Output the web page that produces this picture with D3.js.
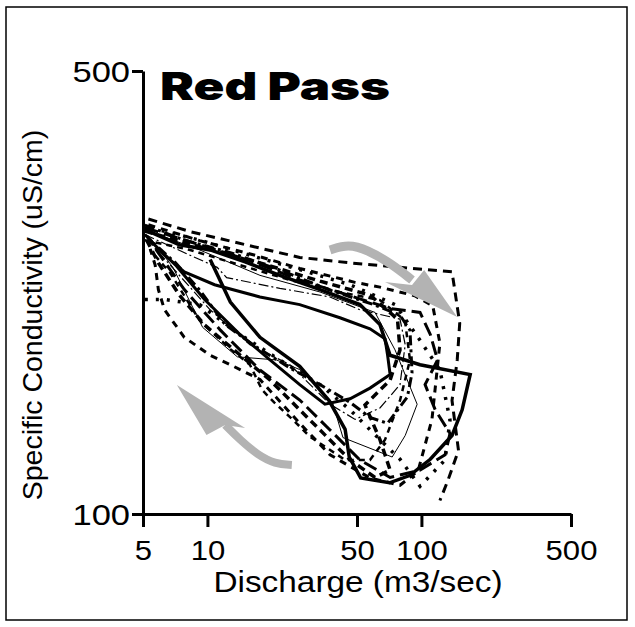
<!DOCTYPE html>
<html>
<head>
<meta charset="utf-8">
<script src="https://cdnjs.cloudflare.com/ajax/libs/d3/7.8.5/d3.min.js"></script>
<style>
  body { margin: 0; background: #fff; }
  svg { display: block; }
</style>
</head>
<body>
<svg id="chart" width="635" height="627"></svg>
<script>
// discharge (m3/sec), specific conductivity (uS/cm) -- one loop per event
var loop1 = [[5.1,281],[7.4,266],[10.3,261],[15,250],[21.8,238],[33.6,226],[51.6,214],[64,199],[71.4,178],[98.5,172],[169,166],[155,146],[139,133],[110,122],[88,115],[71,112],[52,114],[46,123],[44,136],[37,151],[27,171],[17.6,190],[12.8,216],[10.3,252]];
var loop2 = [[5.1,276],[6.3,256],[7.8,241],[10.8,230],[17.6,220],[27,214],[41.6,204],[57.5,196],[67.6,189],[69.5,178],[71.4,166],[57.5,158],[46.4,152],[35.4,149],[27,160],[19.6,175],[14.2,192],[9.7,218],[7.1,247],[5.4,270]];
var loop3 = [[5.1,281],[9.2,261],[17.6,238],[33.6,224],[60.7,208],[75.3,181.5],[95.5,149],[84,133],[73,123],[43,132],[38.4,150],[27,169],[21,175],[13.8,177],[9.5,197],[6.9,245],[5.4,273]];
var loop4 = [[5.1,276],[8.3,256],[11.1,245],[12.3,236],[21.8,227],[37.4,220],[51.6,210],[79.4,203],[84,185],[79.4,160],[64,147],[49,141],[37.4,149],[24.3,172],[15.8,185],[10.3,210],[6.7,247],[5.3,270]];
var loop5 = [[5.3,292],[8.3,279],[15.8,265],[27,254],[46.4,249],[79.4,245],[139,241],[151,200],[147,175],[139,151],[149,126],[133,113],[122,105]];
var loop6 = [[5.3,286],[9.2,270],[16.7,256],[27,244],[48.9,232],[64,228],[93,221],[113,213],[122,186],[112,141],[96.5,117],[79.4,111],[57.5,114],[37.4,124],[27,139],[17.6,163],[12.8,172],[10.3,178],[7.8,190],[6.3,210],[5.9,226],[5.7,247],[5.4,262]];
var loop7 = [[5.1,218],[6.3,218],[9.2,214],[14.2,192],[21.8,175],[33.6,160],[46.4,146],[64,131],[79.4,122],[98.5,110.6],[129,121.7],[136,140.7],[122,168.7],[98.5,188],[75.3,214],[46.4,230],[27,243],[15.8,256],[9.2,270.5],[6.0,280.5]];
var loop8 = [[5.1,283],[9.2,266],[15.8,251],[27,234],[46.4,221],[71.4,211],[98.5,208],[110,192],[119,175],[104,160],[116,146],[136,134],[129,124],[98.5,117.3],[71.4,114.2],[51.6,121.7],[37.4,135.7],[27,151.3],[17.6,168.7],[11.5,195],[7.8,226],[6.0,256],[5.2,275]];
var loop9 = [[5.1,285.6],[7.8,270.5],[12.8,258.5],[21.8,242.6],[37.4,225.6],[60.7,213.6],[79.4,206],[88.4,195],[90.4,167],[86,153],[69.5,139],[57.5,142],[46.4,150],[33.6,160],[24.3,170],[16.7,184],[12.1,199],[9.2,225.6],[7.1,249],[5.4,270.5]];
var loop10 = [[5.1,270.5],[8.3,261],[14.2,247],[24.3,234],[41.6,224],[64,217.5],[83.8,202],[88.4,175],[79.4,151],[67.6,131],[57.5,121.7],[44,121.7],[30.1,132.5],[25,141],[20.5,150],[18,157],[15.8,172],[12.8,182],[9.2,202],[6.7,240],[5.4,261]];
var loop11 = [[5.1,279.5],[9.2,264],[17.6,249],[33.6,233],[57.5,221.5],[77.3,203],[79.4,181.5],[71.4,162.7],[54.5,148.6],[64,131],[71.4,117.3],[60.7,114.2],[46.4,121.7],[35.4,133.3],[27,146],[19.6,162.7],[14.2,178.2],[9.7,198.7],[7.4,221.5],[5.9,249],[5.2,270.5]];

// hysteresis direction arrows, also in data units
var arrowUpBody = [[37.4,261],[45.5,266.6],[56,261],[71.4,249],[90.4,234]];
var arrowUpHead = [[67.6,232.3],[90.4,229.7],[103,242.6],[147,204.5]];
var arrowLowBody = [[24.8,119.5],[20.7,120],[17.2,123.9],[14.2,130.9],[12.1,138.2]];
var arrowLowHead = [[9.9,133.3],[12.1,138.2],[15,136.7],[7.2,159.8]];

var xTicks = [5, 10, 50, 100, 500];
var yTicks = [100, 500];

var lineStyles = [
    {data: loop1, width: 3.5, dash: null},
    {data: loop2, width: 3, dash: null},
    {data: loop3, width: 1, dash: null},
    {data: loop4, width: 1.2, dash: "10,3,2,3"},
    {data: loop5, width: 3, dash: "9,6"},
    {data: loop6, width: 3, dash: "7,6"},
    {data: loop7, width: 3.5, dash: "3,8"},
    {data: loop8, width: 3, dash: "14,6"},
    {data: loop9, width: 3, dash: "10,4,3,4"},
    {data: loop10, width: 2.5, dash: "6,5"},
    {data: loop11, width: 3.5, dash: "8,5"}
];

var svg = d3.select("#chart");
var stretch = 1.15;

svg.append("rect")
    .attr("x", 6).attr("y", 7)
    .attr("width", 621).attr("height", 613)
    .attr("fill", "none")
    .attr("stroke", "#000")
    .attr("stroke-width", 1.5);

var x = d3.scaleLog().domain([5, 500]).range([143, 571]);
var y = d3.scaleLog().domain([100, 500]).range([514, 71]);

var line = d3.line()
    .x(function (d) { return x(d[0]); })
    .y(function (d) { return y(d[1]); });

svg.append("g").selectAll("path")
    .data(lineStyles)
    .enter()
    .append("path")
    .attr("d", function (d) { return line(d.data); })
    .attr("fill", "none")
    .attr("stroke", "#000")
    .attr("stroke-width", function (d) { return d.width; })
    .attr("stroke-dasharray", function (d) { return d.dash; })
    .attr("stroke-linejoin", "miter");

// gray arrows
var arrows = svg.append("g");
[[arrowUpBody, arrowUpHead, 9], [arrowLowBody, arrowLowHead, 8]].forEach(function (a) {
    arrows.append("path")
        .attr("d", d3.line().curve(d3.curveBasis).x(function (d) { return x(d[0]); }).y(function (d) { return y(d[1]); })(a[0]))
        .attr("fill", "none")
        .attr("stroke", "#b3b3b3")
        .attr("stroke-width", a[2]);
    arrows.append("path")
        .attr("d", line(a[1]) + "Z")
        .attr("fill", "#b3b3b3");
});

// axes
var xAxis = svg.append("g")
    .attr("transform", "translate(0,514)")
    .call(d3.axisBottom(x).tickValues(xTicks).tickFormat(d3.format("d")).tickSize(13).tickSizeOuter(0));
var yAxis = svg.append("g")
    .attr("transform", "translate(143,0)")
    .call(d3.axisLeft(y).tickValues(yTicks).tickFormat(d3.format("d")).tickSize(11).tickSizeOuter(0));

[xAxis, yAxis].forEach(function (g) {
    g.select(".domain").attr("stroke", "#000").attr("stroke-width", 3);
    g.selectAll(".tick line").attr("stroke", "#000").attr("stroke-width", 3);
    g.selectAll("text").attr("fill", "#000").style("font-family", "'Liberation Sans', Arial, sans-serif");
});
xAxis.selectAll("text").attr("y", 46).attr("dy", 0).style("font-size", "27px");
yAxis.selectAll("text").attr("x", -13).attr("dy", "0.36em").style("font-size", "30px");

svg.append("text")
    .attr("x", 358).attr("y", 592)
    .attr("text-anchor", "middle")
    .style("font-family", "'Liberation Sans', Arial, sans-serif")
    .style("font-size", "29px")
    .text("Discharge (m3/sec)");

svg.append("text")
    .attr("transform", "translate(42,315) rotate(-90)")
    .attr("text-anchor", "middle")
    .style("font-family", "'Liberation Sans', Arial, sans-serif")
    .style("font-size", "28.5px")
    .text("Specific Conductivity (uS/cm)");

svg.append("text")
    .attr("x", 160).attr("y", 100)
    .style("font-family", "Inter, Lato, Roboto, sans-serif")
    .style("font-weight", 900)
    .style("font-size", "39px")
    .attr("textLength", 230)
    .attr("lengthAdjust", "spacingAndGlyphs")
    .text("Red Pass");

// the original looks a little wider than tall, so stretch horizontal labels
svg.selectAll("text").filter(function () { return !this.getAttribute("textLength") && !this.getAttribute("transform"); })
    .each(function () {
        var w = this.getComputedTextLength();
        d3.select(this).attr("textLength", w * stretch).attr("lengthAdjust", "spacingAndGlyphs");
    });
</script>
</body>
</html>
